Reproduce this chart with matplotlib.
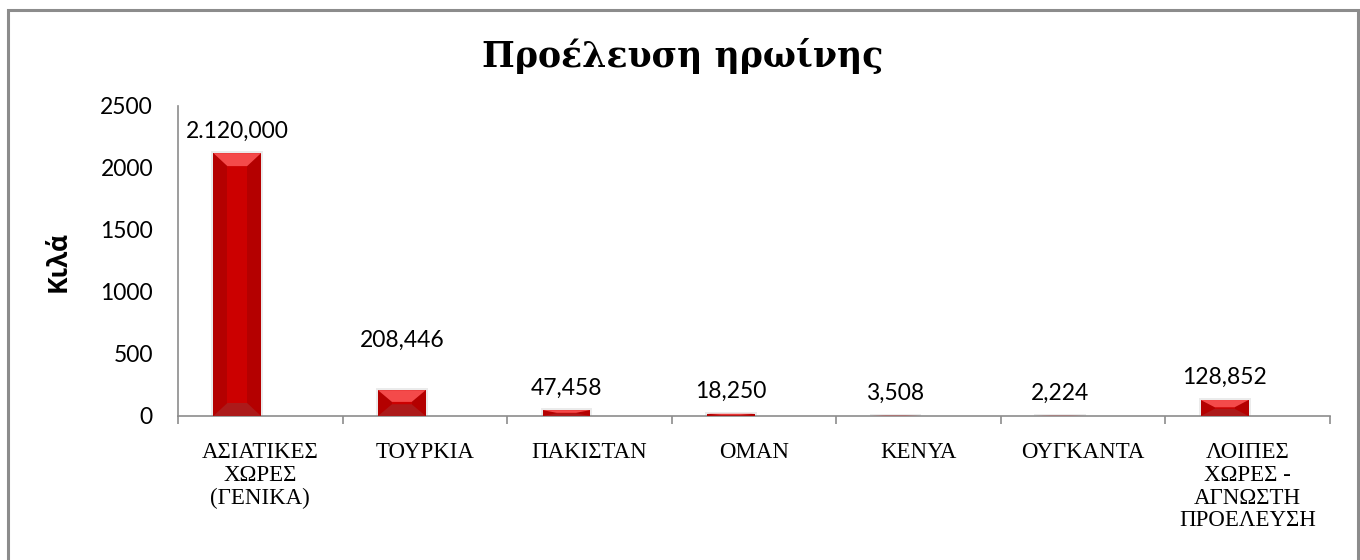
import matplotlib
matplotlib.use("Agg")
import matplotlib.pyplot as plt
from matplotlib.patches import Polygon, Rectangle

categories = ["ΑΣΙΑΤΙΚΕΣ\nΧΩΡΕΣ\n(ΓΕΝΙΚΑ)", "ΤΟΥΡΚΙΑ", "ΠΑΚΙΣΤΑΝ", "ΟΜΑΝ",
              "ΚΕΝΥΑ", "ΟΥΓΚΑΝΤΑ", "ΛΟΙΠΕΣ\nΧΩΡΕΣ -\nΑΓΝΩΣΤΗ\nΠΡΟΕΛΕΥΣΗ"]
kilos = [2120.0, 208.446, 47.458, 18.250, 3.508, 2.224, 128.852]
value_labels = ["2.120,000", "208,446", "47,458", "18,250", "3,508", "2,224", "128,852"]
yticks = [0, 500, 1000, 1500, 2000, 2500]

fig = plt.figure(figsize=(13.6, 5.6), dpi=100)
ax = fig.add_axes([178 / 1360, 1 - 416 / 560, 1152 / 1360, 310 / 560])

x = list(range(len(categories)))
bar_x = [i - 0.14 for i in x]
bars = ax.bar(bar_x, kilos, width=0.29, color="#CC0000", edgecolor="none", zorder=2)

ax.set_xlim(-0.5, len(categories) - 0.5)
ax.set_ylim(0, 2500)

# pixel -> data unit helpers for the bevel look
px_x = (ax.get_xlim()[1] - ax.get_xlim()[0]) / 1152
px_y = 2500 / 310

for b in bars:
    x0, w, h = b.get_x(), b.get_width(), b.get_height()
    x1 = x0 + w
    hpx = h / px_y
    bv = min(13, hpx / 2.2)  # bevel height in px
    sx = 14 * px_x
    by = bv * px_y
    # side strips
    ax.add_patch(Rectangle((x0, 0), sx, h, color="#B40000", zorder=3, lw=0))
    ax.add_patch(Rectangle((x1 - sx, 0), sx, h, color="#B40000", zorder=3, lw=0))
    # top bevel
    ax.add_patch(Polygon([(x0, h), (x1, h), (x1 - sx, h - by), (x0 + sx, h - by)],
                         closed=True, color="#F44A4A", zorder=4, lw=0))
    # bottom bevel
    ax.add_patch(Polygon([(x0, 0), (x1, 0), (x1 - sx, by), (x0 + sx, by)],
                         closed=True, color="#AC1A1A", zorder=4, lw=0))
    # soft shadow
    ax.add_patch(Rectangle((x0 - 2 * px_x, 0), w + 4 * px_x, h + 2 * px_y,
                           color="#000000", alpha=0.08, zorder=1, lw=0))

for i, b in enumerate(bars):
    dy = 36 if i == 1 else 16
    ax.annotate(value_labels[i], (b.get_x() + b.get_width() / 2, b.get_height()),
                xytext=(0, dy), textcoords="offset points", ha="center", va="center",
                fontsize=16.5, family="Lato", color="black", zorder=5,
                annotation_clip=False)

ax.set_xticks(x)
ax.set_xticklabels(categories, family="Liberation Serif", fontsize=16.5,
                   linespacing=1.1, va="top")
ax.set_xticks([i - 0.5 for i in range(len(categories) + 1)], minor=True)
ax.tick_params(axis="x", which="major", length=0, pad=19)
ax.tick_params(axis="x", which="minor", length=6, color="#8c8c8c", width=1.2)
ax.set_yticks(yticks)
ax.set_yticklabels([str(t) for t in yticks], family="Lato", fontsize=16.5)
ax.tick_params(axis="y", length=0, pad=18)

for s in ["top", "right"]:
    ax.spines[s].set_visible(False)
ax.spines["left"].set_color("#8c8c8c")
ax.spines["bottom"].set_color("#8c8c8c")
ax.spines["left"].set_linewidth(1.2)
ax.spines["bottom"].set_linewidth(1.2)

ax.set_ylabel("Κιλά", family="Open Sans", fontweight="bold", fontsize=19)
ax.yaxis.set_label_coords(-0.092, 0.5)

fig.text(683 / 1360, 1 - 56 / 560, "Προέλευση ηρωίνης", ha="center", va="center",
         family="DejaVu Serif", fontweight="bold", fontsize=25)

fig.patches.append(Rectangle((8 / 1360, -0.05), 1350 / 1360, 1.05 - 10 / 560,
                             transform=fig.transFigure, fill=False,
                             edgecolor="#8c8c8c", lw=2.2))

fig.savefig("out.png", dpi=100)
